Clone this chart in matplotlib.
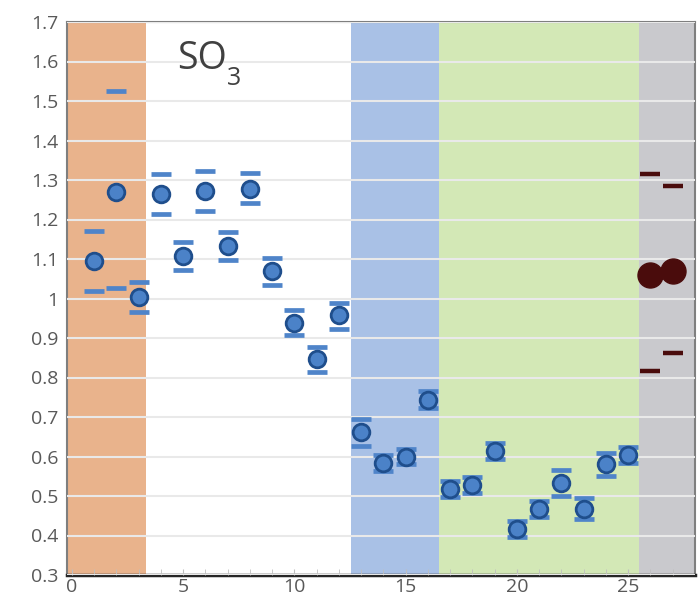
import numpy as np
import matplotlib.pyplot as plt

plt.rcParams['font.family'] = ['Open Sans', 'DejaVu Sans']

# sample data
x_blue = list(range(1, 26))
y_blue = [1.096, 1.269, 1.005, 1.265, 1.107, 1.273, 1.133, 1.277, 1.069, 0.937,
          0.846, 0.957, 0.661, 0.584, 0.600, 0.744, 0.518, 0.527, 0.614, 0.417,
          0.468, 0.533, 0.468, 0.580, 0.603]
hi_blue = [1.171, 1.525, 1.042, 1.314, 1.144, 1.324, 1.168, 1.318, 1.103, 0.971,
           0.878, 0.988, 0.696, 0.605, 0.620, 0.765, 0.538, 0.547, 0.634, 0.437,
           0.488, 0.567, 0.495, 0.610, 0.625]
lo_blue = [1.020, 1.026, 0.965, 1.213, 1.073, 1.222, 1.097, 1.241, 1.035, 0.907,
           0.814, 0.924, 0.627, 0.563, 0.580, 0.723, 0.498, 0.507, 0.594, 0.397,
           0.448, 0.501, 0.441, 0.550, 0.583]

x_red = [26, 27]
y_red = [1.059, 1.069]
hi_red = [1.316, 1.284]
lo_red = [0.816, 0.862]

# shaded groups (x start, x end, colour)
bands = [(-0.3, 3.35, '#E9B38C'), (12.55, 16.5, '#A9C1E6'),
         (16.5, 25.5, '#D3E8B6'), (25.5, 28.5, '#C9C9CD')]

fig = plt.figure(figsize=(7, 6.01), dpi=100)
ax = fig.add_axes([67 / 700, 1 - 575 / 601, 628 / 700, 553 / 601])

for x0, x1, c in bands:
    ax.axvspan(x0, x1, color=c, lw=0, zorder=0)

ax.set_xlim(-0.22, 28.0)
ax.set_ylim(0.3, 1.7)
ax.set_yticks(np.arange(0.3, 1.71, 0.1))
ax.set_yticklabels(['0.3', '0.4', '0.5', '0.6', '0.7', '0.8', '0.9', '1',
                    '1.1', '1.2', '1.3', '1.4', '1.5', '1.6', '1.7'])
ax.set_xticks([0, 5, 10, 15, 20, 25])
ax.set_xticks(range(0, 28), minor=True)
ax.grid(axis='y', color='#E9E9E9', lw=1.5, zorder=1)
ax.set_axisbelow(False)

ax.tick_params(axis='y', length=0, labelsize=14, labelcolor='#595959', pad=6)
ax.tick_params(axis='x', which='both', direction='in', length=4, color='#BFBFBF',
               labelsize=14, labelcolor='#595959', pad=2)

for s in ['left', 'top', 'right']:
    ax.spines[s].set_color('#7F7F7F')
    ax.spines[s].set_linewidth(1.5)
ax.spines['bottom'].set_color('#262626')
ax.spines['bottom'].set_linewidth(2.5)

# error caps only, no stems
ax.plot(x_blue, hi_blue, ls='none', marker='_', ms=14.5, mew=3.4, color='#4F84C9', zorder=3)
ax.plot(x_blue, lo_blue, ls='none', marker='_', ms=14.5, mew=3.4, color='#4F84C9', zorder=3)
ax.plot(x_blue, y_blue, ls='none', marker='o', ms=12, mfc='#4B82C8', mec='#1F4E8C',
        mew=2, zorder=4)

ax.plot(x_red, hi_red, ls='none', marker='_', ms=14, mew=3.2, color='#4A0C0C', zorder=3)
ax.plot(x_red, lo_red, ls='none', marker='_', ms=14, mew=3.2, color='#4A0C0C', zorder=3)
ax.plot(x_red, y_red, ls='none', marker='o', ms=18, color='#4A0C0C', zorder=4)

ax.text(4.75, 1.58, 'SO', fontsize=27, color='#404040', va='baseline', ha='left', zorder=5)
ax.text(6.95, 1.54, '3', fontsize=18, color='#404040', va='baseline', ha='left', zorder=5)

fig.savefig('out.png', dpi=100)
